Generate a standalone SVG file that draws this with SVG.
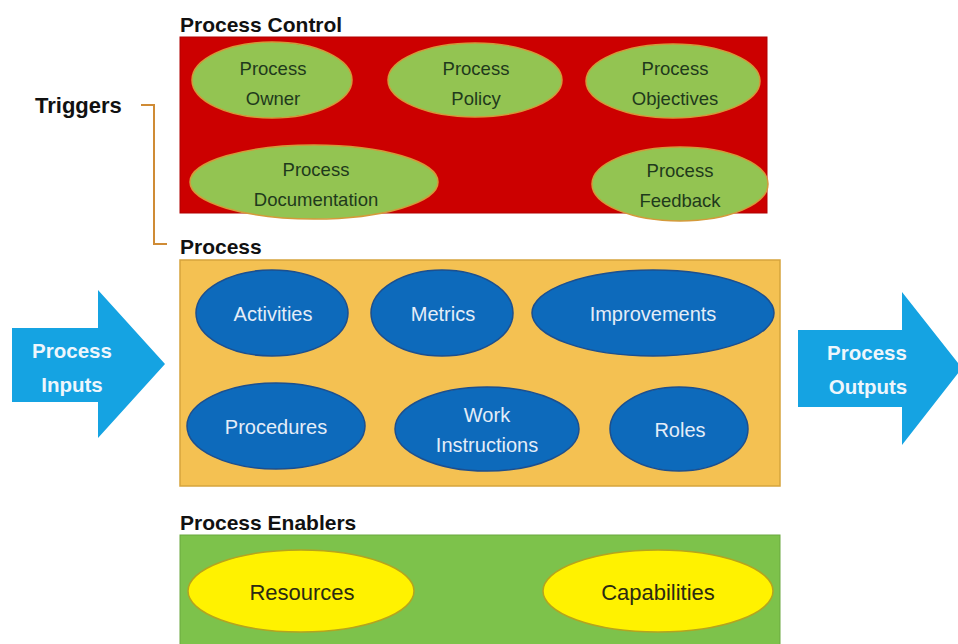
<svg xmlns="http://www.w3.org/2000/svg" width="958" height="644" viewBox="0 0 958 644">
<style>
  .title { font-family: "Liberation Sans", Arial, sans-serif; font-weight: bold; font-size: 21px; fill: #111; }
  .big { font-size: 22px; }
  .gel { fill: #93c452; stroke: #d49a3a; stroke-width: 1.5; }
  .gtx { font-family: "Liberation Sans", Arial, sans-serif; font-size: 18.5px; fill: #1f3a1c; text-anchor: middle; }
  .bel { fill: #0d6abb; stroke: #1c4f8f; stroke-width: 1.5; }
  .btx { font-family: "Liberation Sans", Arial, sans-serif; font-size: 20px; fill: #e4edf8; text-anchor: middle; }
  .yel { fill: #fff200; stroke: #b5a41e; stroke-width: 1.5; }
  .ytx { font-family: "Liberation Sans", Arial, sans-serif; font-size: 22px; fill: #2b2a12; text-anchor: middle; }
  .arrow { fill: #15a3e2; }
  .atx { font-family: "Liberation Sans", Arial, sans-serif; font-weight: bold; font-size: 20.5px; fill: #eef6fc; text-anchor: middle; }
  .conn { fill: none; stroke: #cf8b35; stroke-width: 2; }
</style>
<rect width="958" height="644" fill="#ffffff"/>

<g id="connectors">
  <polyline class="conn" points="141,105 154,105 154,244 167,244"/>
</g>

<g id="triggers">
  <text class="title big" x="35" y="113">Triggers</text>
</g>

<g id="process-control">
  <text class="title" x="180" y="32">Process Control</text>
  <rect x="180" y="37" width="587" height="176" fill="#cc0000" stroke="#b00000" stroke-width="1"/>
</g>
<g id="process-owner">
  <ellipse class="gel" cx="272" cy="80" rx="80" ry="38"/>
  <text class="gtx" x="273" y="75">Process</text>
  <text class="gtx" x="273" y="105">Owner</text>
</g>
<g id="process-policy">
  <ellipse class="gel" cx="475" cy="80" rx="87" ry="37"/>
  <text class="gtx" x="476" y="75">Process</text>
  <text class="gtx" x="476" y="105">Policy</text>
</g>
<g id="process-objectives">
  <ellipse class="gel" cx="673" cy="81" rx="87" ry="37"/>
  <text class="gtx" x="675" y="75">Process</text>
  <text class="gtx" x="675" y="105">Objectives</text>
</g>
<g id="process-documentation">
  <ellipse class="gel" cx="314" cy="182" rx="124" ry="37"/>
  <text class="gtx" x="316" y="176">Process</text>
  <text class="gtx" x="316" y="206">Documentation</text>
</g>
<g id="process-feedback">
  <ellipse class="gel" cx="680" cy="184" rx="88" ry="37"/>
  <text class="gtx" x="680" y="177">Process</text>
  <text class="gtx" x="680" y="207">Feedback</text>
</g>

<g id="process">
  <text class="title" x="180" y="254">Process</text>
  <rect x="180" y="260" width="600" height="226" fill="#f4c152" stroke="#d6a43c" stroke-width="1.5"/>
</g>
<g id="activities">
  <ellipse class="bel" cx="272" cy="313" rx="76" ry="43"/>
  <text class="btx" x="273" y="321">Activities</text>
</g>
<g id="metrics">
  <ellipse class="bel" cx="442" cy="313" rx="71" ry="43"/>
  <text class="btx" x="443" y="321">Metrics</text>
</g>
<g id="improvements">
  <ellipse class="bel" cx="653" cy="313" rx="121" ry="43"/>
  <text class="btx" x="653" y="321">Improvements</text>
</g>
<g id="procedures">
  <ellipse class="bel" cx="276" cy="426" rx="89" ry="43"/>
  <text class="btx" x="276" y="434">Procedures</text>
</g>
<g id="work-instructions">
  <ellipse class="bel" cx="487" cy="429" rx="92" ry="42"/>
  <text class="btx" x="487" y="422">Work</text>
  <text class="btx" x="487" y="452">Instructions</text>
</g>
<g id="roles">
  <ellipse class="bel" cx="679" cy="429" rx="69" ry="42"/>
  <text class="btx" x="680" y="437">Roles</text>
</g>

<g id="process-inputs">
  <polygon class="arrow" points="12,328 98,328 98,290 165,364 98,438 98,402 12,402"/>
  <text class="atx" x="72" y="358">Process</text>
  <text class="atx" x="72" y="392">Inputs</text>
</g>
<g id="process-outputs">
  <polygon class="arrow" points="798,330 902,330 902,292 962,368 902,445 902,407 798,407"/>
  <text class="atx" x="867" y="360">Process</text>
  <text class="atx" x="868" y="394">Outputs</text>
</g>

<g id="process-enablers">
  <text class="title" x="180" y="530">Process Enablers</text>
  <rect x="180" y="535" width="600" height="115" fill="#7dc24b" stroke="#6aa83e" stroke-width="1"/>
</g>
<g id="resources">
  <ellipse class="yel" cx="301" cy="591" rx="113" ry="41"/>
  <text class="ytx" x="302" y="600">Resources</text>
</g>
<g id="capabilities">
  <ellipse class="yel" cx="658" cy="591" rx="115" ry="41"/>
  <text class="ytx" x="658" y="600">Capabilities</text>
</g>
</svg>
